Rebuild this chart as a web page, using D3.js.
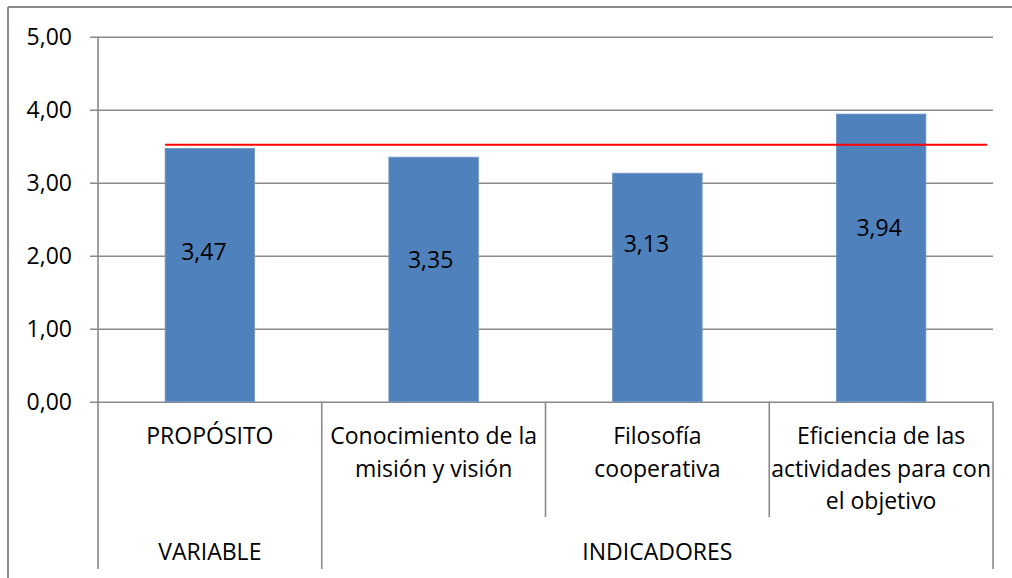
<!DOCTYPE html>
<html>
<head>
<meta charset="utf-8">
<script src="https://cdn.jsdelivr.net/npm/d3@7"></script>
<style>
  html, body { margin: 0; padding: 0; background: #fff; }
  svg { display: block; font-family: "Open Sans", "Noto Sans", sans-serif; }
</style>
</head>
<body>
<svg id="chart" width="1012" height="578"></svg>
<script>
// Mean scores per item, with the reference level shown as a red line
const categories = ["PROPÓSITO", "Conocimiento de la misión y visión", "Filosofía cooperativa", "Eficiencia de las actividades para con el objetivo"];
const categoryLines = [["PROPÓSITO"], ["Conocimiento de la", "misión y visión"], ["Filosofía", "cooperativa"], ["Eficiencia de las", "actividades para con", "el objetivo"]];
const values = [3.47, 3.35, 3.13, 3.94];
const valueLabels = ["3,47", "3,35", "3,13", "3,94"];
const referenceLevel = 3.52;
const yTicks = [0, 1, 2, 3, 4, 5];
const yTickLabels = ["0,00", "1,00", "2,00", "3,00", "4,00", "5,00"];
const groups = [
  { name: "VARIABLE", from: 0, to: 0 },
  { name: "INDICADORES", from: 1, to: 3 }
];

// Label placement inside the bars (in axis units) and small horizontal nudges
const labelLevels = [2.06, 1.95, 2.16, 2.38];
const labelNudge = [-6, -3, -11, -2];

const svg = d3.select("#chart");
const plot = { left: 98, right: 993, top: 36.7, bottom: 401.7 };
const catRowBottom = 517;
const axisBottom = 569;
const gridColor = "#8a8a8a";
const fontSize = 23;

const y = d3.scaleLinear().domain([0, 5]).range([plot.bottom, plot.top]);
const x = d3.scaleBand().domain(categories).range([plot.left, plot.right])
  .paddingInner(0.6).paddingOuter(0.3);
const step = x.step();

// Outer chart frame (top and left edges)
svg.append("line").attr("x1", 8).attr("x2", 1012).attr("y1", 7).attr("y2", 7)
  .attr("stroke", gridColor).attr("stroke-width", 2);
svg.append("line").attr("x1", 8).attr("x2", 8).attr("y1", 7).attr("y2", 578)
  .attr("stroke", gridColor).attr("stroke-width", 2);

// Horizontal gridlines and tick marks
const yAxis = d3.axisLeft(y).tickValues(yTicks)
  .tickSize(-(plot.right - plot.left))
  .tickFormat((d, i) => yTickLabels[i]);
const gy = svg.append("g").attr("transform", `translate(${plot.left},0)`).call(yAxis);
gy.select(".domain").remove();
gy.selectAll(".tick line").attr("stroke", gridColor).attr("stroke-width", 1.6)
  .attr("x1", -8);
gy.selectAll(".tick text").attr("x", -26).attr("font-size", fontSize)
  .attr("fill", "#000").attr("font-family", "Open Sans, sans-serif").attr("dy", "0.36em");

// Vertical axis line, extended through the category rows
svg.append("line").attr("x1", plot.left).attr("x2", plot.left)
  .attr("y1", plot.top).attr("y2", axisBottom)
  .attr("stroke", gridColor).attr("stroke-width", 1.6);

// Category separators below the axis
d3.range(1, categories.length + 1).forEach(i => {
  const xx = plot.left + i * step;
  const full = groups.some(g => g.to + 1 === i);
  svg.append("line").attr("x1", xx).attr("x2", xx)
    .attr("y1", plot.bottom).attr("y2", full ? axisBottom : catRowBottom)
    .attr("stroke", gridColor).attr("stroke-width", 1.6);
});

// Bars
svg.append("g").selectAll("rect").data(values).join("rect")
  .attr("x", (d, i) => x(categories[i]))
  .attr("width", x.bandwidth())
  .attr("y", d => y(d))
  .attr("height", d => y(0) - y(d))
  .attr("fill", "#4F81BD")
  .attr("stroke", "#6f95c6").attr("stroke-width", 0.8);

// Reference line
svg.append("line")
  .attr("x1", x(categories[0])).attr("x2", plot.right - 6)
  .attr("y1", y(referenceLevel)).attr("y2", y(referenceLevel))
  .attr("stroke", "#FF0000").attr("stroke-width", 2);

// Value labels
svg.append("g").selectAll("text").data(values).join("text")
  .attr("x", (d, i) => x(categories[i]) + x.bandwidth() / 2 + labelNudge[i])
  .attr("y", (d, i) => y(labelLevels[i]))
  .attr("dy", "0.36em")
  .attr("text-anchor", "middle")
  .attr("font-size", fontSize)
  .text((d, i) => valueLabels[i]);

// Category labels
const catG = svg.append("g");
categoryLines.forEach((lines, i) => {
  const cx = plot.left + (i + 0.5) * step;
  const t = catG.append("text").attr("text-anchor", "middle").attr("font-size", fontSize);
  lines.forEach((ln, j) => {
    t.append("tspan").attr("x", cx).attr("y", 444 + j * 32.5).text(ln);
  });
});

// Group labels
svg.append("g").selectAll("text").data(groups).join("text")
  .attr("x", g => plot.left + ((g.from + g.to + 1) / 2) * step)
  .attr("y", 560)
  .attr("text-anchor", "middle")
  .attr("font-size", fontSize)
  .text(g => g.name);
</script>
</body>
</html>
